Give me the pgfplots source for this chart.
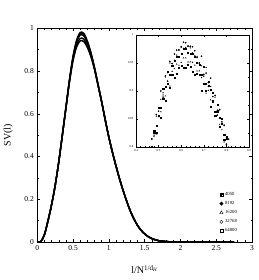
\documentclass[border=0pt]{standalone}
\usepackage{pgfplots}
\pgfplotsset{compat=1.18}
\usepackage{pgfplotstable}
\usepackage{fontspec}
\setmainfont{Liberation Serif}
\pgfdeclareplotmark{boxplus}{%
  \pgfpathrectangle{\pgfqpoint{-\pgfplotmarksize}{-\pgfplotmarksize}}{\pgfqpoint{2\pgfplotmarksize}{2\pgfplotmarksize}}%
  \pgfpathmoveto{\pgfqpoint{-\pgfplotmarksize}{0pt}}\pgfpathlineto{\pgfqpoint{\pgfplotmarksize}{0pt}}%
  \pgfpathmoveto{\pgfqpoint{0pt}{-\pgfplotmarksize}}\pgfpathlineto{\pgfqpoint{0pt}{\pgfplotmarksize}}%
  \pgfusepathqstroke}

\pgfplotstableread{
x s1 s2 s3 s4 s5
0.00 0 0 0 0 0
0.05 0.002 0.002 0.002 0.002 0.002
0.10 0.035 0.035 0.035 0.035 0.035
0.15 0.10 0.10 0.10 0.10 0.10
0.20 0.175 0.175 0.175 0.175 0.175
0.25 0.265 0.265 0.265 0.265 0.265
0.30 0.375 0.375 0.375 0.375 0.375
0.35 0.50 0.50 0.50 0.50 0.50
0.40 0.625 0.63 0.627 0.629 0.629
0.45 0.749 0.76 0.752 0.759 0.757
0.50 0.849 0.87 0.855 0.867 0.864
0.55 0.913 0.945 0.922 0.941 0.935
0.60 0.941 0.981 0.953 0.976 0.969
0.65 0.938 0.976 0.949 0.971 0.964
0.70 0.910 0.94 0.919 0.936 0.931
0.75 0.866 0.885 0.872 0.883 0.879
0.80 0.806 0.815 0.808 0.814 0.812
0.85 0.731 0.735 0.732 0.735 0.734
0.90 0.655 0.655 0.655 0.655 0.655
0.95 0.57 0.57 0.57 0.57 0.57
1.00 0.49 0.49 0.49 0.49 0.49
1.05 0.42 0.42 0.42 0.42 0.42
1.10 0.355 0.355 0.355 0.355 0.355
1.15 0.295 0.295 0.295 0.295 0.295
1.20 0.24 0.24 0.24 0.24 0.24
1.25 0.19 0.19 0.19 0.19 0.19
1.30 0.145 0.145 0.145 0.145 0.145
1.35 0.108 0.108 0.108 0.108 0.108
1.40 0.078 0.078 0.078 0.078 0.078
1.45 0.055 0.055 0.055 0.055 0.055
1.50 0.038 0.038 0.038 0.038 0.038
1.55 0.025 0.025 0.025 0.025 0.025
1.60 0.016 0.016 0.016 0.016 0.016
1.65 0.010 0.010 0.010 0.010 0.010
1.70 0.006 0.006 0.006 0.006 0.006
1.75 0.004 0.004 0.004 0.004 0.004
1.80 0.002 0.002 0.002 0.002 0.002
1.85 0.001 0.001 0.001 0.001 0.001
1.90 0.0005 0.0005 0.0005 0.0005 0.0005
2.00 0 0 0 0 0
2.25 0 0 0 0 0
2.50 0 0 0 0 0
2.75 0 0 0 0 0
}\maintab

\pgfplotstableread{
x s1 s2 s3 s4 s5
0.44 0.738 0.729 0.743 0.725 0.739
0.45 0.742 0.771 0.746 0.767 0.742
0.46 0.781 0.774 0.782 0.774 0.794
0.47 0.786 0.814 0.789 0.815 0.800
0.48 0.826 0.824 0.821 0.819 0.829
0.49 0.825 0.858 0.823 0.855 0.838
0.50 0.856 0.864 0.870 0.854 0.871
0.51 0.853 0.900 0.863 0.885 0.870
0.52 0.887 0.889 0.893 0.897 0.904
0.53 0.883 0.927 0.891 0.925 0.908
0.54 0.913 0.933 0.918 0.917 0.934
0.55 0.906 0.953 0.909 0.950 0.930
0.56 0.929 0.949 0.935 0.949 0.946
0.57 0.924 0.966 0.940 0.955 0.955
0.58 0.931 0.973 0.948 0.964 0.962
0.59 0.941 0.973 0.946 0.974 0.962
0.60 0.945 0.979 0.951 0.978 0.967
0.61 0.941 0.987 0.959 0.976 0.975
0.62 0.942 0.986 0.959 0.978 0.975
0.63 0.947 0.980 0.952 0.981 0.968
0.64 0.944 0.980 0.952 0.977 0.967
0.65 0.935 0.979 0.951 0.968 0.966
0.66 0.930 0.972 0.946 0.963 0.961
0.67 0.931 0.960 0.936 0.962 0.950
0.68 0.930 0.950 0.936 0.950 0.947
0.69 0.901 0.962 0.924 0.945 0.929
0.70 0.913 0.929 0.930 0.926 0.944
0.71 0.901 0.932 0.896 0.942 0.913
0.72 0.909 0.915 0.901 0.908 0.917
0.73 0.872 0.923 0.884 0.908 0.902
0.74 0.882 0.890 0.897 0.880 0.897
0.75 0.856 0.892 0.863 0.889 0.863
0.76 0.864 0.857 0.866 0.865 0.876
0.77 0.837 0.867 0.840 0.866 0.852
0.78 0.842 0.845 0.842 0.831 0.851
0.79 0.813 0.839 0.809 0.838 0.822
0.80 0.819 0.805 0.818 0.805 0.815
0.81 0.778 0.814 0.793 0.800 0.788
0.82 0.781 0.774 0.791 0.775 0.796
0.84 0.750 0.752 0.749 0.754 0.751
}\insettab

\begin{document}
\begin{tikzpicture}
\useasboundingbox (-37.3pt,-38pt) rectangle (220.7pt,242pt);
\begin{axis}[
  at={(0pt,0pt)}, anchor=south west,
  scale only axis, width=214.7pt, height=213.7pt,
  xmin=0, xmax=3, ymin=0, ymax=1,
  xtick={0,0.5,1,1.5,2,2.5,3},
  ytick={0,0.2,0.4,0.6,0.8,1},
  minor x tick num=4, minor y tick num=1,
  major tick length=3pt, minor tick length=1.5pt,
  tick style={black, line width=0.5pt},
  axis line style={line width=0.6pt},
  tick label style={font=\fontsize{7.5}{8}\selectfont},
  /pgf/number format/assume math mode=true,
  xlabel={l/N\textsuperscript{1/d\textsubscript{\textit{H}}}},
  ylabel={SV(l)},
  label style={font=\fontsize{9}{10}\selectfont},
  every axis x label/.style={at={(axis description cs:0.5,-0.13)}, anchor=center},
  every axis y label/.style={at={(axis description cs:-0.135,0.5)}, rotate=90, anchor=center},
  legend style={at={(0.844,0.248)}, anchor=north west, draw=none, fill=none,
    font=\fontsize{4.7}{5}\selectfont, row sep=0.5pt, inner sep=1pt},
  legend cell align=left,
]
\addplot[black, line width=1.4pt, smooth, forget plot] table[x=x,y=s1]{\maintab};
\addplot[black, line width=1.4pt, smooth, forget plot] table[x=x,y=s2]{\maintab};
\addplot[black, line width=1.4pt, smooth, forget plot] table[x=x,y=s3]{\maintab};
\addplot[black, line width=1.4pt, smooth, forget plot] table[x=x,y=s4]{\maintab};
\addplot[black, line width=1.4pt, smooth, forget plot] table[x=x,y=s5]{\maintab};
\addlegendimage{only marks, black, mark=boxplus, mark size=1.6pt, mark options={line width=0.4pt}}
\addlegendentry{4050}
\addlegendimage{only marks, black, mark=*, mark size=1.7pt}
\addlegendentry{8192}
\addlegendimage{only marks, black, mark=triangle, mark size=1.9pt, mark options={line width=0.4pt}}
\addlegendentry{16200}
\addlegendimage{only marks, black, mark=o, mark size=1.6pt, mark options={line width=0.4pt}}
\addlegendentry{32768}
\addlegendimage{only marks, black, mark=square, mark size=1.6pt, mark options={line width=0.4pt}}
\addlegendentry{64800}
\end{axis}
\begin{axis}[
  at={(98.7pt,95pt)}, anchor=south west,
  scale only axis, width=113pt, height=112pt,
  axis background/.style={fill=white},
  xmin=0.4, xmax=0.9, ymin=0.8, ymax=1,
  xtick={0.4,0.5,0.6,0.7,0.8,0.9},
  ytick={0.8,0.85,0.9,0.95,1},
  minor x tick num=4, minor y tick num=1,
  major tick length=2pt, minor tick length=1pt,
  tick style={black, line width=0.4pt},
  axis line style={line width=0.5pt},
  tick label style={font=\fontsize{3}{3.5}\selectfont},
  xticklabel style={yshift=1pt},
  yticklabel style={xshift=1pt},
  /pgf/number format/assume math mode=true,
]
\addplot[only marks, black, mark=boxplus, mark size=0.55pt, mark options={line width=0.25pt}] table[x=x,y=s1]{\insettab};
\addplot[only marks, black, mark=*, mark size=0.6pt] table[x=x,y=s2]{\insettab};
\addplot[only marks, black, mark=triangle, mark size=0.65pt, mark options={line width=0.25pt}] table[x=x,y=s3]{\insettab};
\addplot[only marks, black, mark=o, mark size=0.55pt, mark options={line width=0.25pt}] table[x=x,y=s4]{\insettab};
\addplot[only marks, black, mark=square, mark size=0.55pt, mark options={line width=0.25pt}] table[x=x,y=s5]{\insettab};
\end{axis}
\end{tikzpicture}
\end{document}
